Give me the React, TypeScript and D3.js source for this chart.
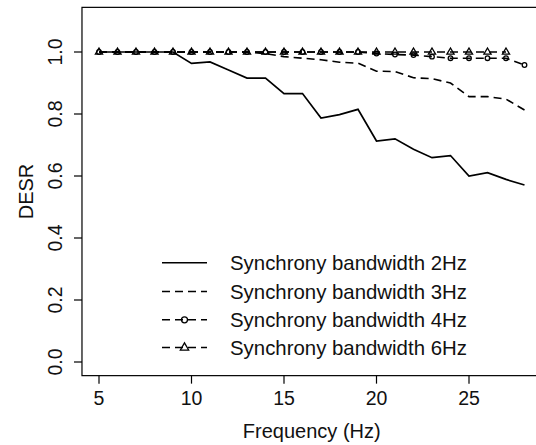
import React from "react";
import * as d3 from "d3";

const freqs = [5, 6, 7, 8, 9, 10, 11, 12, 13, 14, 15, 16, 17, 18, 19, 20, 21, 22, 23, 24, 25, 26, 27, 28];
const bw2 = [1, 1, 1, 1, 1, 0.963, 0.968, 0.942, 0.916, 0.916, 0.866, 0.866, 0.787, 0.798, 0.815, 0.713, 0.72, 0.686, 0.659, 0.666, 0.6, 0.611, 0.589, 0.571];
const bw3 = [1, 1, 1, 1, 1, 1, 1, 1, 1, 0.995, 0.985, 0.98, 0.975, 0.967, 0.964, 0.938, 0.937, 0.917, 0.914, 0.9, 0.856, 0.856, 0.848, 0.813];
const bw4 = [1, 1, 1, 1, 1, 1, 1, 1, 1, 1, 1, 1, 1, 1, 1, 0.995, 0.992, 0.99, 0.985, 0.98, 0.98, 0.98, 0.98, 0.958];
const freqs6 = [5, 6, 7, 8, 9, 10, 11, 12, 13, 14, 15, 16, 17, 18, 19, 20, 21, 22, 23, 24, 25, 26, 27];
const bw6 = [1, 1, 1, 1, 1, 1, 1, 1, 1, 1, 1, 1, 1, 1, 1, 1, 1, 1, 1, 1, 1, 1, 1];
const xTicks = [5, 10, 15, 20, 25];
const yTicks = [0, 0.2, 0.4, 0.6, 0.8, 1.0];
const legendLabels = [
  "Synchrony bandwidth 2Hz",
  "Synchrony bandwidth 3Hz",
  "Synchrony bandwidth 4Hz",
  "Synchrony bandwidth 6Hz",
];

const FONT = "'Liberation Sans', Arial, sans-serif";
const DASH = "8,5";

export default function App() {
  const x = d3.scaleLinear().domain([5, 28]).range([99, 524.5]);
  const y = d3.scaleLinear().domain([0, 1]).range([362, 52]);
  const boxL = x(4.08), boxR = x(28.92), boxT = y(1.144), boxB = y(-0.044);

  const line = d3
    .line<[number, number]>()
    .x((d) => x(d[0]))
    .y((d) => y(d[1]));

  const s2 = freqs.map((f, i) => [f, bw2[i]] as [number, number]);
  const s3 = freqs.map((f, i) => [f, bw3[i]] as [number, number]);
  const s4 = freqs.map((f, i) => [f, bw4[i]] as [number, number]);
  const s6 = freqs6.map((f, i) => [f, bw6[i]] as [number, number]);

  const tri = (cx: number, cy: number, s = 4.0) =>
    `M${cx},${cy - s}L${cx + s * 0.9},${cy + s * 0.55}L${cx - s * 0.9},${cy + s * 0.55}Z`;

  const legY = [262.7, 291.5, 319.8, 347.5];
  const lx0 = 162, lx1 = 207, lxm = 184.5;

  return (
    <svg
      width={536}
      height={445}
      style={{ position: "absolute", left: 0, top: 0, background: "#fff" }}
      fontFamily={FONT}
    >
      <rect x={0} y={0} width={536} height={445} fill="#fff" />
      {/* box */}
      <rect x={boxL} y={boxT} width={boxR - boxL} height={boxB - boxT} fill="none" stroke="#000" strokeWidth={1.2} />
      {/* x axis */}
      {xTicks.map((t) => (
        <g key={"xt" + t}>
          <line x1={x(t)} x2={x(t)} y1={boxB} y2={boxB + 8} stroke="#000" strokeWidth={1.2} />
          <text x={x(t)} y={405} textAnchor="middle" fontSize={19.5} fill="#111">
            {t}
          </text>
        </g>
      ))}
      <text x={(boxL + boxR) / 2 - 0} y={438} textAnchor="middle" fontSize={20} fill="#111">
        Frequency (Hz)
      </text>
      {/* y axis */}
      {yTicks.map((t) => (
        <g key={"yt" + t}>
          <line x1={boxL - 8} x2={boxL} y1={y(t)} y2={y(t)} stroke="#000" strokeWidth={1.2} />
          <text
            transform={`translate(62,${y(t)}) rotate(-90)`}
            textAnchor="middle"
            fontSize={19.5}
            fill="#111"
          >
            {t.toFixed(1)}
          </text>
        </g>
      ))}
      <text transform={`translate(33,${(boxT + boxB) / 2}) rotate(-90)`} textAnchor="middle" fontSize={20} fill="#111">
        DESR
      </text>

      {/* series */}
      <path d={line(s2) || ""} fill="none" stroke="#000" strokeWidth={1.7} />
      <path d={line(s3) || ""} fill="none" stroke="#000" strokeWidth={1.6} strokeDasharray={DASH} />
      <path d={line(s4) || ""} fill="none" stroke="#000" strokeWidth={1.6} strokeDasharray={DASH} />
      <path d={line(s6) || ""} fill="none" stroke="#000" strokeWidth={1.6} strokeDasharray={DASH} />
      {s4.map((d, i) => (
        <circle key={"c" + i} cx={x(d[0])} cy={y(d[1])} r={2.3} fill="none" stroke="#000" strokeWidth={1.3} />
      ))}
      {s6.map((d, i) => (
        <path key={"t" + i} d={tri(x(d[0]), y(d[1]))} fill="none" stroke="#000" strokeWidth={1.3} />
      ))}

      {/* legend */}
      {legendLabels.map((lab, i) => (
        <g key={"lg" + i}>
          <line
            x1={lx0}
            x2={lx1}
            y1={legY[i]}
            y2={legY[i]}
            stroke="#000"
            strokeWidth={1.6}
            strokeDasharray={i === 0 ? undefined : DASH}
          />
          {i === 2 && <circle cx={lxm} cy={legY[i]} r={3} fill="none" stroke="#000" strokeWidth={1.3} />}
          {i === 3 && <path d={tri(lxm, legY[i], 4.6)} fill="none" stroke="#000" strokeWidth={1.3} />}
          <text x={230} y={legY[i] + 7} fontSize={20.4} fill="#111">
            {lab}
          </text>
        </g>
      ))}
    </svg>
  );
}
